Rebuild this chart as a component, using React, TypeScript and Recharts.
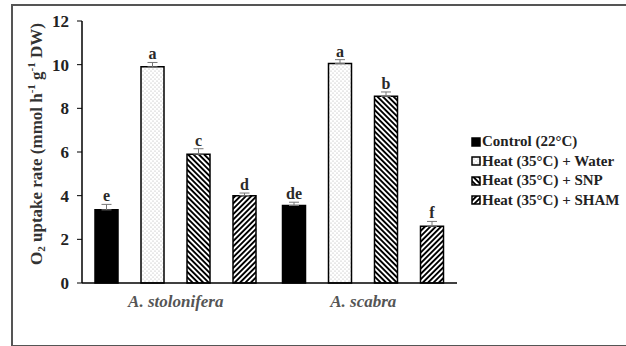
import React from "react";
import {
  BarChart,
  Bar,
  XAxis,
  YAxis,
  ErrorBar,
  LabelList,
} from "recharts";

// Species on the x axis
const species = ["A. stolonifera", "A. scabra"];

// O2 uptake rate per treatment (mmol h-1 g-1 DW)
const control = [3.35, 3.55];
const water = [9.9, 10.05];
const snp = [5.9, 8.55];
const sham = [4.0, 2.6];

// Standard errors
const controlErr = [0.25, 0.15];
const waterErr = [0.2, 0.18];
const snpErr = [0.25, 0.2];
const shamErr = [0.12, 0.22];

// Significance letters
const controlSig = ["e", "de"];
const waterSig = ["a", "a"];
const snpSig = ["c", "b"];
const shamSig = ["d", "f"];

const yTicks = [0, 2, 4, 6, 8, 10, 12];

const SERIES = [
  { key: "control", name: "Control (22°C)", values: control, err: controlErr, sig: controlSig, fill: "#000" },
  { key: "water", name: "Heat (35°C) + Water", values: water, err: waterErr, sig: waterSig, fill: "url(#dots)" },
  { key: "snp", name: "Heat (35°C) + SNP", values: snp, err: snpErr, sig: snpSig, fill: "url(#hatchBack)" },
  { key: "sham", name: "Heat (35°C) + SHAM", values: sham, err: shamErr, sig: shamSig, fill: "url(#hatchFwd)" },
];

const data = species.map((sp, i) => {
  const row: Record<string, any> = { species: sp };
  SERIES.forEach(s => {
    row[s.key] = s.values[i];
    row[s.key + "Err"] = [0, s.err[i]];
    row[s.key + "Sig"] = s.sig[i];
  });
  return row;
});

const FONT = "'Liberation Serif', 'Times New Roman', serif";

// Letter above each bar, lifted past the upper error whisker
function sigLabel(series: typeof SERIES[number]) {
  return (props: any) => {
    const vb = props.viewBox ?? props;
    const x = vb.x ?? props.x;
    const y = vb.y ?? props.y;
    const w = vb.width ?? props.width;
    const h = vb.height ?? props.height;
    const idx = props.index ?? 0;
    const v = series.values[idx];
    const pxPerUnit = v ? Math.abs(h) / v : 0;
    const top = y - series.err[idx] * pxPerUnit;
    return (
      <text
        x={x + w / 2}
        y={top - 3}
        textAnchor="middle"
        fontFamily={FONT}
        fontWeight="bold"
        fontSize={16}
        fill="#2a2a2a"
      >
        {props.value}
      </text>
    );
  };
}

function CategoryTick({ x, y, payload }: any) {
  return (
    <text
      x={x}
      y={y + 16}
      textAnchor="middle"
      fontFamily={FONT}
      fontWeight="bold"
      fontStyle="italic"
      fontSize={17}
      fill="#555"
    >
      {payload.value}
    </text>
  );
}

function LegendBox() {
  return (
    <div
      style={{
        position: "absolute",
        left: 471,
        top: 132,
        fontFamily: FONT,
        fontWeight: "bold",
        fontSize: 15,
        color: "#222",
      }}
    >
      {SERIES.map(s => (
        <div key={s.key} style={{ display: "flex", alignItems: "center", height: 19.5, whiteSpace: "nowrap" }}>
          <svg width={10} height={10} style={{ marginRight: 1 }}>
            <rect x={1} y={1} width={8} height={8} fill={s.fill} stroke="#000" strokeWidth={1.5} />
          </svg>
          <span>{s.name}</span>
        </div>
      ))}
    </div>
  );
}

export default function App() {
  return (
    <div style={{ position: "absolute", left: 0, top: 0, width: 626, height: 346, background: "#fff", overflow: "hidden" }}>
      {/* frame around the figure: left, top and bottom edges only */}
      <div
        style={{
          position: "absolute",
          left: 11,
          top: 4,
          width: 640,
          height: 339,
          borderLeft: "2px solid #555",
          borderTop: "2px solid #555",
          borderBottom: "2px solid #555",
        }}
      />
      <BarChart
        width={626}
        height={346}
        data={data}
        margin={{ top: 21, right: 169, bottom: 33, left: 0 }}
        barSize={23}
        barGap={23}
        style={{ position: "absolute", left: 0, top: 0 }}
      >
        <defs>
          <pattern id="dots" patternUnits="userSpaceOnUse" width={4} height={4}>
            <rect width={4} height={4} fill="#fff" />
            <circle cx={1} cy={1} r={0.6} fill="#aaa" />
            <circle cx={3} cy={3} r={0.6} fill="#aaa" />
          </pattern>
          <pattern id="hatchBack" patternUnits="userSpaceOnUse" width={3.8} height={3.8} patternTransform="rotate(-45)">
            <rect width={3.8} height={3.8} fill="#fff" />
            <rect width={1.9} height={3.8} fill="#000" />
          </pattern>
          <pattern id="hatchFwd" patternUnits="userSpaceOnUse" width={3.8} height={3.8} patternTransform="rotate(45)">
            <rect width={3.8} height={3.8} fill="#fff" />
            <rect width={1.9} height={3.8} fill="#000" />
          </pattern>
        </defs>

        <XAxis
          dataKey="species"
          height={30}
          tick={<CategoryTick />}
          tickLine={false}
          axisLine={{ stroke: "#000", strokeWidth: 1.5 }}
          interval={0}
        />
        <YAxis
          width={82}
          domain={[0, 12]}
          ticks={yTicks}
          interval={0}
          axisLine={{ stroke: "#000", strokeWidth: 1.5 }}
          tickLine={{ stroke: "#000" }}
          tickSize={5}
          tickMargin={8}
          tick={{ fontFamily: FONT, fontWeight: "bold", fontSize: 17, fill: "#222" }}
          label={{
            content: () => (
              <text
                transform="translate(38,144) rotate(-90)"
                textAnchor="middle"
                dominantBaseline="middle"
                fontFamily={FONT}
                fontWeight="bold"
                fontSize={17}
                fill="#333"
              >
                O<tspan fontSize={11} dy={4}>2</tspan>
                <tspan dy={-4}> uptake rate (mmol h</tspan>
                <tspan fontSize={11} dy={-6}>-1</tspan>
                <tspan dy={6}> g</tspan>
                <tspan fontSize={11} dy={-6}>-1</tspan>
                <tspan dy={6}> DW)</tspan>
              </text>
            ),
          }}
        />

        {SERIES.map(s => (
          <Bar
            key={s.key}
            dataKey={s.key}
            name={s.name}
            fill={s.fill}
            stroke="#000"
            strokeWidth={1.5}
            isAnimationActive={false}
          >
            <ErrorBar dataKey={s.key + "Err"} width={5} stroke="#777" strokeWidth={1} direction="y" />
            <LabelList dataKey={s.key + "Sig"} content={sigLabel(s)} />
          </Bar>
        ))}
      </BarChart>
      <LegendBox />
    </div>
  );
}
